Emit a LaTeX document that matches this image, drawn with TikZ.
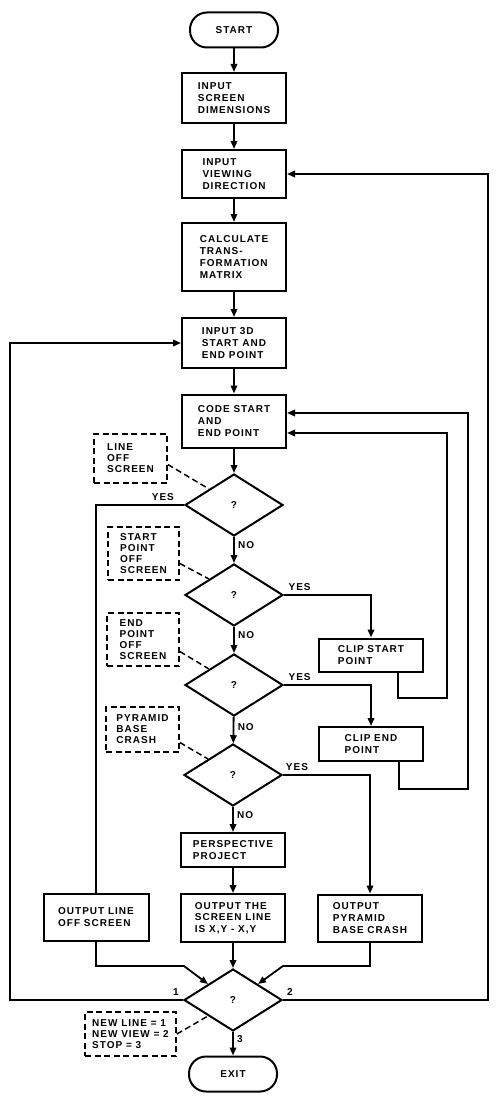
\documentclass[tikz,border=0pt]{standalone}
\usepackage{fontspec}
\newfontfamily\chartfont[LetterSpace=10]{Liberation Sans}
\usetikzlibrary{arrows.meta, shapes.geometric}

\begin{document}
\begin{tikzpicture}[x=1pt, y=-1pt,
	every node/.style={font=\chartfont\bfseries\fontsize{10}{11.7}\selectfont},
	proc/.style={draw, line width=2pt, minimum width=104pt, align=left, inner ysep=2pt},
	memo/.style={draw, line width=1.7pt, dash pattern=on 6pt off 3.5pt, align=left, inner sep=1pt, font=\chartfont\bfseries\fontsize{10}{11}\selectfont},
	term/.style={draw, line width=2pt, rounded corners=17pt, minimum width=88pt, minimum height=35pt},
	ask/.style={draw, diamond, aspect=1.58, line width=2pt, minimum width=98pt, minimum height=62pt, inner sep=0pt},
	flow/.style={line width=1.8pt, -{Triangle[length=8pt, width=6.5pt]}},
	link/.style={line width=1.8pt},
	hint/.style={line width=1.5pt, dash pattern=on 6pt off 3.5pt}
]
	\useasboundingbox (0,0) rectangle (500,1102);

	% Main column
	\node[term] (start) at (234,30) {START};
	\node[proc, minimum height=50pt] (screen) at (234,98) {INPUT\\SCREEN\\DIMENSIONS};
	\node[proc, minimum height=48pt] (view) at (234,174) {INPUT\\VIEWING\\DIRECTION};
	\node[proc, minimum height=68pt] (matrix) at (234,257) {CALCULATE\\TRANS-\\FORMATION\\MATRIX};
	\node[proc, minimum height=50pt] (inp3d) at (234,343) {INPUT 3D\\START AND\\END POINT};
	\node[proc, minimum height=53pt] (code) at (234,421) {CODE START\\AND\\END POINT};
	\node[ask] (q1) at (234,505) {?};
	\node[ask] (q2) at (234,595) {?};
	\node[ask] (q3) at (234,685) {?};
	\node[ask] (q4) at (233,775) {?};
	\node[proc, minimum height=34pt] (persp) at (233,850) {PERSPECTIVE\\PROJECT};
	\node[proc, minimum height=48pt] (scrline) at (233,918) {OUTPUT THE\\SCREEN LINE\\IS X,Y - X,Y};
	\node[ask] (q5) at (233,1000) {?};
	\node[term] (exit) at (233,1074) {EXIT};

	% Side boxes
	\node[proc, minimum height=33pt] (clipst) at (371,655) {CLIP START\\POINT};
	\node[proc, minimum height=34pt] (clipend) at (371,744) {CLIP END\\POINT};
	\node[proc, minimum height=47pt] (outpyr) at (370,918) {OUTPUT\\PYRAMID\\BASE CRASH};
	\node[proc, minimum height=47pt, minimum width=105pt] (offscr) at (96,917) {OUTPUT LINE\\OFF SCREEN};

	% Dashed notes
	\node[memo, minimum width=73pt, minimum height=49pt] (nline) at (130.5,458.5) {LINE\\OFF\\SCREEN};
	\node[memo, minimum width=71pt, minimum height=53pt] (nstart) at (143.5,553.5) {START\\POINT\\OFF\\SCREEN};
	\node[memo, minimum width=72pt, minimum height=53pt] (nend) at (143,639.5) {END\\POINT\\OFF\\SCREEN};
	\node[memo, minimum width=73pt, minimum height=45pt] (npyr) at (142.5,729.5) {PYRAMID\\BASE\\CRASH};
	\node[memo, minimum width=91pt, minimum height=44pt] (ncode) at (130.5,1034) {NEW LINE = 1\\NEW VIEW = 2\\STOP = 3};

	% Bends
	\coordinate (loopA) at (447,698);
	\coordinate (loopB) at (468,789);
	\coordinate (loopC) at (488,1000);
	\coordinate (loopD) at (10,1000);
	\coordinate (joinL) at (184,966);
	\coordinate (joinR) at (283,966);

	% Straight flow
	\draw[flow] (start) -- (screen);
	\draw[flow] (screen) -- (view);
	\draw[flow] (view) -- (matrix);
	\draw[flow] (matrix) -- (inp3d);
	\draw[flow] (inp3d) -- (code);
	\draw[flow] (code) -- (q1);
	\draw[flow] (q1) -- node[right, pos=0.3] {NO} (q2);
	\draw[flow] (q2) -- node[right, pos=0.3] {NO} (q3);
	\draw[flow] (q3) -- node[right, pos=0.37] {NO} (q4);
	\draw[flow] (q4) -- node[right, pos=0.32] {NO} (persp);
	\draw[flow] (persp) -- (scrline);
	\draw[flow] (scrline) -- (q5);
	\draw[flow] (q5) -- node[right, pos=0.3] {3} (exit);

	% YES branches
	\draw[link] (q1.west) -| node[above, pos=0.12] {YES} (offscr.north);
	\draw[flow] (q2.east) -| node[above, pos=0.09] {YES} (clipst.north);
	\draw[flow] (q3.east) -| node[above, pos=0.09] {YES} (clipend.north);
	\draw[flow] (q4.east) -| node[above, pos=0.08] {YES} (outpyr.north);

	% Loops back
	\draw[flow] ([xshift=27pt]clipst.south) |- (loopA) |- ([yshift=-12pt]code.east);
	\draw[flow] ([xshift=28pt]clipend.south) |- (loopB) |- ([yshift=8pt]code.east);
	\draw[flow] (q5.east) node[above right] {2} -- (loopC) |- (view.east);
	\draw[flow] (q5.west) node[above left] {1} -- (loopD) |- (inp3d.west);
	\draw[flow] (offscr.south) |- (joinL) -- (q5.north west);
	\draw[flow] (outpyr.south) |- (joinR) -- (q5.north east);

	% Note leaders
	\draw[hint] ([yshift=-6pt]nline.east) -- (q1.north west);
	\draw[hint] ([yshift=-10pt]nstart.east) -- (q2.north west);
	\draw[hint] ([yshift=-12pt]nend.east) -- (q3.north west);
	\draw[hint] ([yshift=-13pt]npyr.east) -- (q4.north west);
	\draw[hint] (ncode.east) -- (q5.south west);
\end{tikzpicture}
\end{document}
